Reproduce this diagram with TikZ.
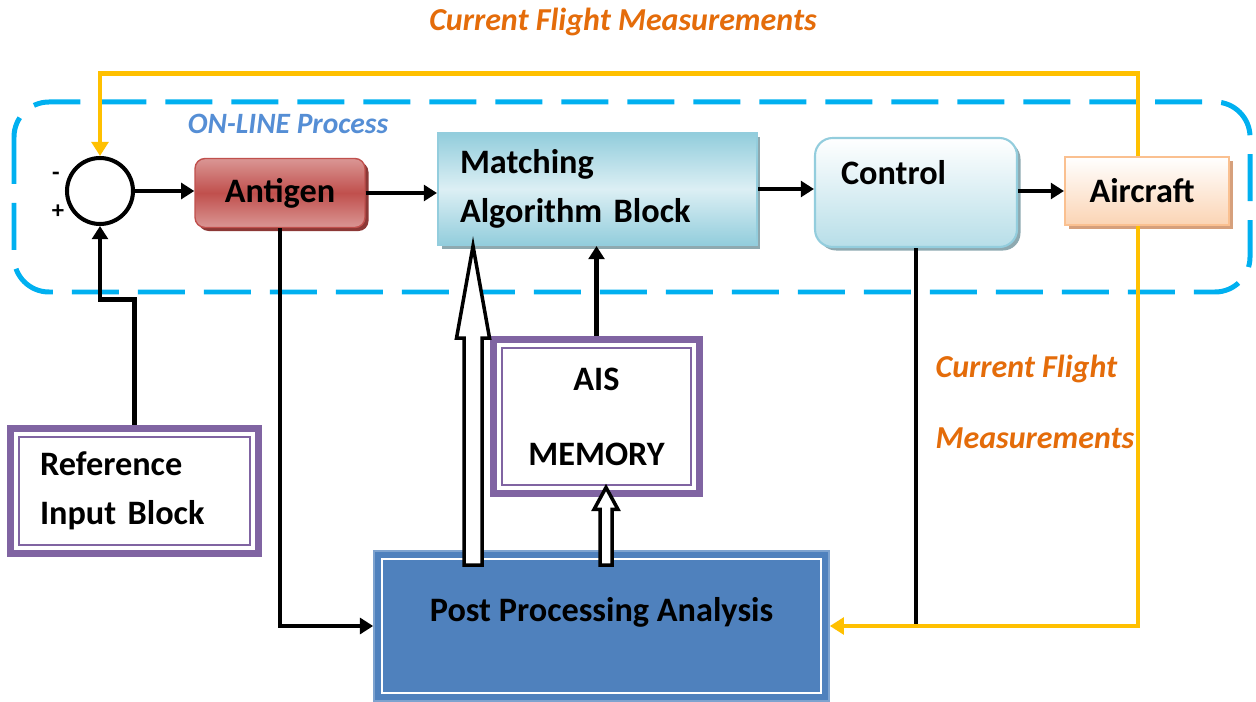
\documentclass[tikz,border=0pt]{standalone}
\usepackage{fontspec}
\setmainfont{Carlito}
\usepackage{tikz}
\usetikzlibrary{arrows.meta,shadows}
\usepackage{xcolor}
\definecolor{dashblue}{HTML}{00B0F0}
\definecolor{fbyellow}{HTML}{FFC000}
\definecolor{txtorange}{HTML}{E46C0A}
\definecolor{onlineblue}{HTML}{558ED5}
\definecolor{antred}{HTML}{C0504D}
\definecolor{antlight}{HTML}{DA9694}
\definecolor{antdark}{HTML}{8C3836}
\definecolor{aqualine}{HTML}{93CDDD}
\definecolor{aquadark}{HTML}{92CDDC}
\definecolor{aqualight}{HTML}{DCEFF4}
\definecolor{aquashadow}{HTML}{8EA9B0}
\definecolor{ctrlbottom}{HTML}{B7DEE8}
\definecolor{acline}{HTML}{FAC090}
\definecolor{acbottom}{HTML}{FBD4B4}
\definecolor{acshadow}{HTML}{D6A07C}
\definecolor{memviolet}{HTML}{8064A2}
\definecolor{ppblue}{HTML}{4F81BD}
\definecolor{ppedge}{HTML}{7EA3CF}
% hollow arrow: #1 foot, #2 tip, #3 half shaft, #4 half head, #5 head length
\newcommand{\fatarrow}[5]{%
  \draw[fatline] ([xshift=-#3]#1) -- ([xshift=-#3,yshift=-#5]#2)
    -- ([xshift=-#4,yshift=-#5]#2) -- (#2) -- ([xshift=#4,yshift=-#5]#2)
    -- ([xshift=#3,yshift=-#5]#2) -- ([xshift=#3]#1) -- cycle;}

\begin{document}
\begin{tikzpicture}[x=0.02cm,y=-0.02cm,>={Triangle[length=7.5pt,width=9pt]}]
  \tikzstyle{lbl}=[font=\fontsize{19.5}{27.6}\selectfont\bfseries]
  \tikzstyle{sumnode}=[circle,draw,line width=2.3pt,fill=white,minimum size=1.32cm,inner sep=0pt]
  \tikzstyle{antigen}=[lbl,rounded corners=0.2cm,draw=antred,line width=0.8pt,
    top color=antlight,bottom color=antlight,middle color=antred,
    minimum width=3.4cm,minimum height=1.38cm,
    drop shadow={shadow xshift=2pt,shadow yshift=-2pt,fill=antdark,opacity=1}]
  \tikzstyle{match}=[lbl,draw=aqualine,line width=1.2pt,shading angle=35,
    top color=aquadark,bottom color=aquadark,middle color=aqualight,
    minimum width=6.38cm,minimum height=2.24cm,text width=5.5cm,align=left,
    drop shadow={shadow xshift=2pt,shadow yshift=-2pt,fill=aquashadow,opacity=1}]
  \tikzstyle{ctrl}=[lbl,rounded corners=0.35cm,draw=aqualine,line width=1.2pt,
    top color=white,bottom color=ctrlbottom,
    minimum width=4.04cm,minimum height=2.18cm,text width=3cm,align=left,
    text height=0.5cm,text depth=0.8cm,
    drop shadow={shadow xshift=2pt,shadow yshift=-2pt,fill=aquashadow,opacity=1}]
  \tikzstyle{plant}=[lbl,draw=acline,line width=1.2pt,top color=white,bottom color=acbottom,
    minimum width=3.28cm,minimum height=1.36cm,text width=2.3cm,align=left,
    drop shadow={shadow xshift=2pt,shadow yshift=-2pt,fill=acshadow,opacity=1}]
  \tikzstyle{refbox}=[lbl,draw=memviolet,line width=4.5pt,fill=white,
    minimum width=4.96cm,minimum height=2.5cm,text width=3.78cm,align=left]
  \tikzstyle{membox}=[lbl,draw=memviolet,line width=4.5pt,fill=white,
    minimum width=4.12cm,minimum height=3.08cm,align=center,
    font=\fontsize{19.5}{42.7}\selectfont\bfseries]
  \tikzstyle{ppbox}=[lbl,draw=ppedge,line width=1pt,fill=ppblue,
    minimum width=9.1cm,minimum height=3cm,text height=0.5cm,text depth=0.7cm]
  \tikzstyle{innerline}=[memviolet,line width=1pt]
  \tikzstyle{arr}=[->,line width=2.8pt]
  \tikzstyle{fb}=[->,fbyellow,line width=2.8pt,>={Triangle[length=8pt,width=9.5pt]}]
  \tikzstyle{fatline}=[draw,fill=white,line width=2pt,line join=miter]
  \tikzstyle{onlineframe}=[dashblue,line width=0.1cm,rounded corners=0.7cm,
    dash pattern=on 0.94cm off 0.38cm]
  \tikzstyle{measure}=[font=\fontsize{18.2}{40}\selectfont\bfseries\itshape,text=txtorange]
  \useasboundingbox (0,0) rectangle (1256,702);

  % on-line loop
  \draw[onlineframe] (14,102) rectangle (1250,292);
  \node(online) at (288,124)[font=\fontsize{16.8}{18}\selectfont\bfseries\itshape,text=onlineblue]{ON-LINE Process};
  \node(top-fb) at (623,22)[measure]{Current Flight Measurements};
  \node(side-fb) at (1035,402)[measure,align=left]{Current Flight\\Measurements};

  \node(sum) at (100,191)[sumnode]{};
  \node(minus) at (56,176)[font=\fontsize{14}{16}\selectfont\bfseries]{-};
  \node(plus) at (58,212)[font=\fontsize{14}{16}\selectfont\bfseries]{+};
  \node(antigen) at (280,193)[antigen]{Antigen};
  \node(match) at (597.5,189)[match]{Matching\\Algorithm Block};
  \node(control) at (916,192.5)[ctrl]{Control};
  \node(aircraft) at (1147,191)[plant]{Aircraft};

  \node(ref) at (134.5,491)[refbox]{Reference\\Input Block};
  \draw[innerline] ([shift={(0.25cm,-0.25cm)}]ref.north west) rectangle ([shift={(-0.25cm,0.25cm)}]ref.south east);
  \node(ais) at (596.5,416.5)[membox]{AIS\\MEMORY};
  \draw[innerline] ([shift={(0.25cm,-0.25cm)}]ais.north west) rectangle ([shift={(-0.25cm,0.25cm)}]ais.south east);
  \node(pp) at (601.5,626)[ppbox]{Post Processing Analysis};
  \draw[white,line width=1pt] ([shift={(0.17cm,-0.17cm)}]pp.north west) rectangle ([shift={(-0.17cm,0.17cm)}]pp.south east);

  % forward path
  \draw[arr](sum.east)--(sum.east -| antigen.west);
  \draw[arr](antigen.east)--(antigen.east -| match.west);
  \draw[arr](match.east)--(match.east -| control.west);
  \draw[arr](aircraft.west -| control.east)--(aircraft.west);
  \draw[arr](ref.north)--++(0,-125)-|(sum.south);
  \draw[arr](antigen.south)|-(pp.west);
  \draw[arr](ais.north)--(ais.north |- match.south);
  \draw[line width=2.8pt](control.south)--(control.south |- pp.east);

  % feedback
  \draw[fb]([xshift=-0.18cm]aircraft.north)|-([yshift=1.65cm]sum.north)--(sum.north);
  \draw[fb]([xshift=-0.18cm]aircraft.south)|-(pp.east);

  % learning paths
  \coordinate(big-foot) at ([xshift=-2.57cm,yshift=-0.3cm]pp.north);
  \coordinate(big-tip) at (big-foot |- match.south);
  \fatarrow{big-foot}{big-tip}{0.18cm}{0.33cm}{1.84cm}
  \coordinate(small-foot) at ([xshift=0.09cm,yshift=-0.3cm]pp.north);
  \coordinate(small-tip) at ([yshift=0.2cm]small-foot |- ais.south);
  \fatarrow{small-foot}{small-tip}{0.12cm}{0.24cm}{0.44cm}
\end{tikzpicture}
\end{document}
